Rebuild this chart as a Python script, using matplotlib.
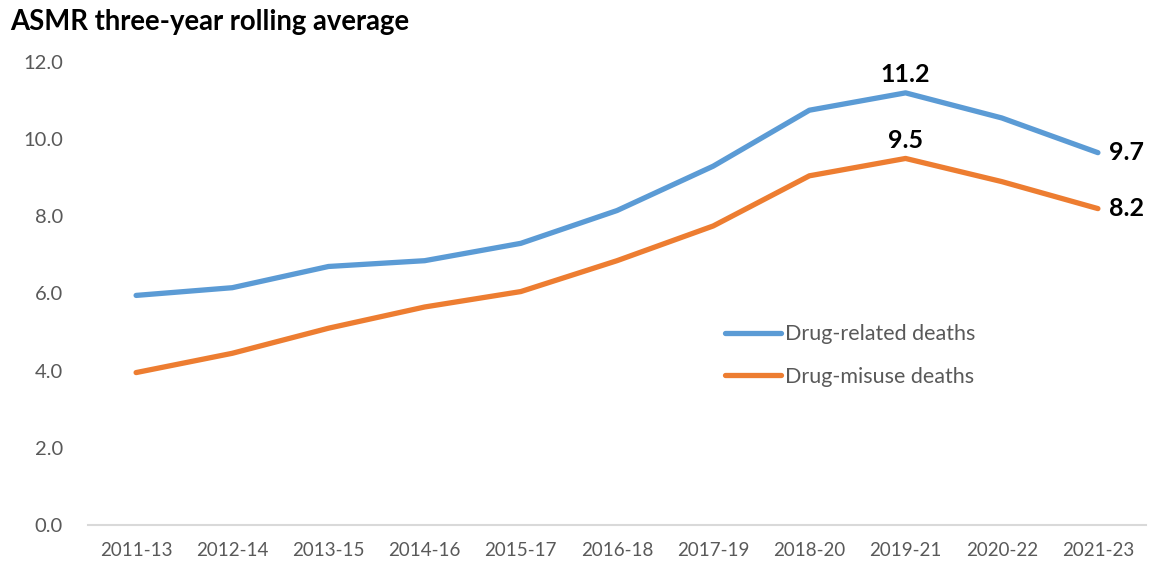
import matplotlib
matplotlib.use("Agg")
import matplotlib.pyplot as plt

periods = ["2011-13", "2012-14", "2013-15", "2014-16", "2015-17", "2016-18",
           "2017-19", "2018-20", "2019-21", "2020-22", "2021-23"]
drug_related = [5.95, 6.15, 6.7, 6.85, 7.3, 8.15, 9.3, 10.75, 11.2, 10.55, 9.65]
drug_misuse = [3.95, 4.45, 5.1, 5.65, 6.05, 6.85, 7.75, 9.05, 9.5, 8.9, 8.2]
yticks = [0, 2, 4, 6, 8, 10, 12]

plt.rcParams['font.family'] = ['Lato', 'DejaVu Sans']

fig = plt.figure(figsize=(11.52, 5.74), dpi=100)
ax = fig.add_axes([0.0764, 0.0854, 0.9184, 0.8066])

x = list(range(len(periods)))
ax.plot(x, drug_related, color="#5B9BD5", lw=3.8, solid_capstyle="round",
        solid_joinstyle="round", label="Drug-related deaths")
ax.plot(x, drug_misuse, color="#ED7D31", lw=3.8, solid_capstyle="round",
        solid_joinstyle="round", label="Drug-misuse deaths")

ax.set_xlim(-0.5, len(periods) - 0.5)
ax.set_ylim(0, 12)
ax.set_xticks(x)
ax.set_xticklabels(periods)
ax.set_yticks(yticks)
ax.set_yticklabels([f"{v:.1f}" for v in yticks])
ax.tick_params(axis="both", length=0, colors="#595959")
ax.tick_params(axis="x", pad=12, labelsize=13.5)
ax.tick_params(axis="y", pad=18, labelsize=14.5)
for s in ["top", "right", "left"]:
    ax.spines[s].set_visible(False)
ax.spines["bottom"].set_color("#D9D9D9")
ax.spines["bottom"].set_linewidth(1.5)

# data labels
peak = 8
last = len(periods) - 1
lbl = dict(textcoords="offset points", fontsize=18, fontweight="bold", color="black")
ax.annotate(f"{drug_related[peak]:.1f}", (peak, drug_related[peak]), xytext=(0, 5),
            ha="center", va="bottom", **lbl)
ax.annotate(f"{drug_misuse[peak]:.1f}", (peak, drug_misuse[peak]), xytext=(0, 5),
            ha="center", va="bottom", **lbl)
ax.annotate(f"{drug_related[last]:.1f}", (last, drug_related[last]), xytext=(8, 0),
            ha="left", va="center", **lbl)
ax.annotate(f"{drug_misuse[last]:.1f}", (last, drug_misuse[last]), xytext=(8, 0),
            ha="left", va="center", **lbl)

leg = ax.legend(loc="center left", bbox_to_anchor=(0.602, 0.366), frameon=False,
                fontsize=15.5, handlelength=2.6, handletextpad=0.2, labelspacing=1.05,
                borderaxespad=0, borderpad=0)
for t in leg.get_texts():
    t.set_color("#595959")

fig.text(0.009, 0.962, "ASMR three-year rolling average", fontsize=19.8, fontweight="bold",
         ha="left", va="center", color="black")

fig.savefig("out.png", dpi=100)
